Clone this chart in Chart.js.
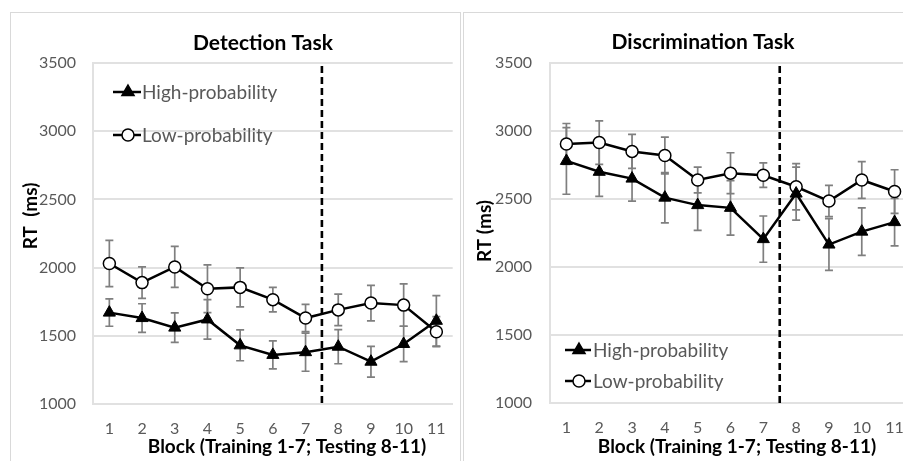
<!DOCTYPE html>
<html>
<head>
<meta charset="utf-8">
<script src="https://cdn.jsdelivr.net/npm/chart.js@4.4.1/dist/chart.umd.min.js"></script>
<style>
    html, body { margin: 0; padding: 0; background: #fff; overflow: hidden; width: 903px; height: 461px; }
    .frame { position: absolute; border: 1px solid #d9d9d9; box-sizing: border-box; }
    canvas { position: absolute; }
</style>
</head>
<body>
<div class="frame" style="left:10px; top:12px; width:451px; height:480px;"></div>
<div class="frame" style="left:463px; top:12px; width:480px; height:480px;"></div>
<canvas id="chartDetection" width="451" height="449" style="left:10px; top:12px;"></canvas>
<canvas id="chartDiscrimination" width="460" height="449" style="left:463px; top:12px;"></canvas>
<script>
const blocks = ['1', '2', '3', '4', '5', '6', '7', '8', '9', '10', '11'];
const yTicks = [1000, 1500, 2000, 2500, 3000, 3500];

// Detection task (ms)
const detHigh = [1670, 1630, 1560, 1620, 1430, 1360, 1380, 1420, 1310, 1440, 1610];
const detHighErr = [100, 105, 108, 145, 113, 103, 140, 125, 113, 130, 185];
const detLow = [2030, 1890, 2005, 1845, 1855, 1765, 1630, 1690, 1740, 1725, 1530];
const detLowErr = [170, 115, 150, 175, 143, 90, 100, 115, 130, 155, 110];

// Discrimination task (ms)
const discHigh = [2780, 2700, 2650, 2510, 2455, 2435, 2205, 2540, 2165, 2260, 2330];
const discHighErr = [245, 180, 165, 185, 185, 200, 170, 195, 190, 175, 175];
const discLow = [2905, 2915, 2850, 2820, 2640, 2690, 2675, 2590, 2485, 2640, 2555];
const discLowErr = [150, 160, 125, 135, 95, 150, 90, 170, 115, 135, 160];

const seriesNames = ['High-probability', 'Low-probability'];

const FONT = 'Lato, "Open Sans", sans-serif';
const tickColor = '#595959';
const gridColor = '#e1e1e1';

function drawMarker(ctx, kind, x, y) {
    ctx.save();
    ctx.lineWidth = 1.5;
    ctx.strokeStyle = '#000';
    ctx.beginPath();
    if (kind === 'triangle') {
        const r = 7;
        ctx.moveTo(x, y - r);
        ctx.lineTo(x + r * 0.866, y + r / 2);
        ctx.lineTo(x - r * 0.866, y + r / 2);
        ctx.closePath();
        ctx.fillStyle = '#000';
    } else {
        ctx.arc(x, y, 6, 0, Math.PI * 2);
        ctx.fillStyle = '#fff';
    }
    ctx.fill();
    ctx.stroke();
    ctx.restore();
}

const panelDecor = {
    id: 'panelDecor',
    beforeDatasetsDraw(chart) {
        const { ctx } = chart;
        const yScale = chart.scales.y;
        ctx.save();
        ctx.strokeStyle = '#7f7f7f';
        ctx.lineWidth = 1.7;
        chart.data.datasets.forEach((ds, i) => {
            const meta = chart.getDatasetMeta(i);
            meta.data.forEach((pt, j) => {
                const v = ds.data[j];
                const e = ds.errors[j];
                const top = yScale.getPixelForValue(v + e);
                const bot = yScale.getPixelForValue(v - e);
                ctx.beginPath();
                ctx.moveTo(pt.x, top); ctx.lineTo(pt.x, bot);
                ctx.moveTo(pt.x - 4, top); ctx.lineTo(pt.x + 4, top);
                ctx.moveTo(pt.x - 4, bot); ctx.lineTo(pt.x + 4, bot);
                ctx.stroke();
            });
        });
        ctx.restore();
    },
    afterDatasetsDraw(chart) {
        const { ctx, chartArea } = chart;
        const xScale = chart.scales.x;
        const split = (xScale.getPixelForValue(6) + xScale.getPixelForValue(7)) / 2;
        ctx.save();
        ctx.strokeStyle = '#000';
        ctx.lineWidth = 2.6;
        ctx.setLineDash([7, 4]);
        ctx.beginPath();
        ctx.moveTo(split, chartArea.top + 3);
        ctx.lineTo(split, chartArea.bottom + 2);
        ctx.stroke();
        ctx.restore();
    },
    afterDraw(chart, args, opts) {
        const { ctx } = chart;
        ctx.save();
        ctx.fillStyle = '#000';
        ctx.textAlign = 'center';
        ctx.textBaseline = 'middle';
        ctx.font = `bold 21px ${FONT}`;
        ctx.fillText(opts.title, opts.titleAt[0], opts.titleAt[1]);
        ctx.font = `bold 19px ${FONT}`;
        ctx.fillText('Block (Training 1-7; Testing 8-11)', opts.xTitleAt[0], opts.xTitleAt[1]);
        ctx.save();
        ctx.translate(opts.yTitleAt[0], opts.yTitleAt[1]);
        ctx.rotate(-Math.PI / 2);
        ctx.font = `bold 19px ${FONT}`;
        ctx.fillText(opts.yTitle, 0, 0);
        ctx.restore();

        // legend
        const lg = opts.legend;
        ['triangle', 'circle'].forEach((kind, i) => {
            const ly = lg.y[i];
            ctx.strokeStyle = '#000';
            ctx.lineWidth = 2.5;
            ctx.beginPath();
            ctx.moveTo(lg.x0, ly);
            ctx.lineTo(lg.x1, ly);
            ctx.stroke();
            drawMarker(ctx, kind, lg.mx, ly);
            ctx.fillStyle = tickColor;
            ctx.textAlign = 'left';
            ctx.font = `19px ${FONT}`;
            ctx.fillText(seriesNames[i], lg.tx, ly + 1);
        });
        ctx.restore();
    }
};

function makeChart(canvasId, high, highErr, low, lowErr, decor, pad, yWidth, xHeight, yPad) {
    const el = document.getElementById(canvasId);
    return new Chart(el, {
        type: 'line',
        data: {
            labels: blocks,
            datasets: [
                {
                    label: seriesNames[0],
                    data: high,
                    errors: highErr,
                    borderColor: '#000',
                    borderWidth: 2.5,
                    pointStyle: 'triangle',
                    pointRadius: 7,
                    pointBackgroundColor: '#000',
                    pointBorderColor: '#000',
                    pointBorderWidth: 1,
                    tension: 0
                },
                {
                    label: seriesNames[1],
                    data: low,
                    errors: lowErr,
                    borderColor: '#000',
                    borderWidth: 2.5,
                    pointStyle: 'circle',
                    pointRadius: 6,
                    pointBackgroundColor: '#fff',
                    pointBorderColor: '#000',
                    pointBorderWidth: 1.5,
                    tension: 0
                }
            ]
        },
        options: {
            responsive: false,
            animation: false,
            layout: { padding: pad },
            plugins: {
                legend: { display: false },
                tooltip: { enabled: false },
                title: { display: false },
                panelDecor: decor
            },
            scales: {
                x: {
                    type: 'category',
                    offset: true,
                    grid: { display: false, drawTicks: false },
                    border: { display: true, color: gridColor, width: 2 },
                    ticks: { color: tickColor, font: { family: FONT, size: 16 }, padding: 15, maxRotation: 0, autoSkip: false },
                    afterFit(scale) { scale.height = xHeight; }
                },
                y: {
                    min: yTicks[0],
                    max: yTicks[yTicks.length - 1],
                    afterBuildTicks(scale) { scale.ticks = yTicks.map((v) => ({ value: v })); },
                    grid: { color: gridColor, lineWidth: 2, drawTicks: false },
                    border: { display: true, color: gridColor, width: 2 },
                    ticks: {
                        color: tickColor,
                        font: { family: FONT, size: 16 },
                        padding: yPad,
                        callback: (value) => String(value)
                    },
                    afterFit(scale) { scale.width = yWidth; }
                }
            }
        },
        plugins: [panelDecor]
    });
}

makeChart('chartDetection', detHigh, detHighErr, detLow, detLowErr, {
    title: 'Detection Task',
    titleAt: [253, 31],
    xTitleAt: [277, 435],
    yTitle: 'RT  (ms)',
    yTitleAt: [21, 204],
    legend: { x0: 103, x1: 131, mx: 118, tx: 132, y: [80, 123] }
}, { top: 51, left: 0, right: 6, bottom: 0 }, 83, 57, 17);

makeChart('chartDiscrimination', discHigh, discHighErr, discLow, discLowErr, {
    title: 'Discrimination Task',
    titleAt: [240, 30],
    xTitleAt: [274, 435],
    yTitle: 'RT (ms)',
    yTitleAt: [22, 219],
    legend: { x0: 102, x1: 128, mx: 116, tx: 130, y: [338, 369] }
}, { top: 51, left: 0, right: 12, bottom: 0 }, 87, 58, 18);
</script>
</body>
</html>
